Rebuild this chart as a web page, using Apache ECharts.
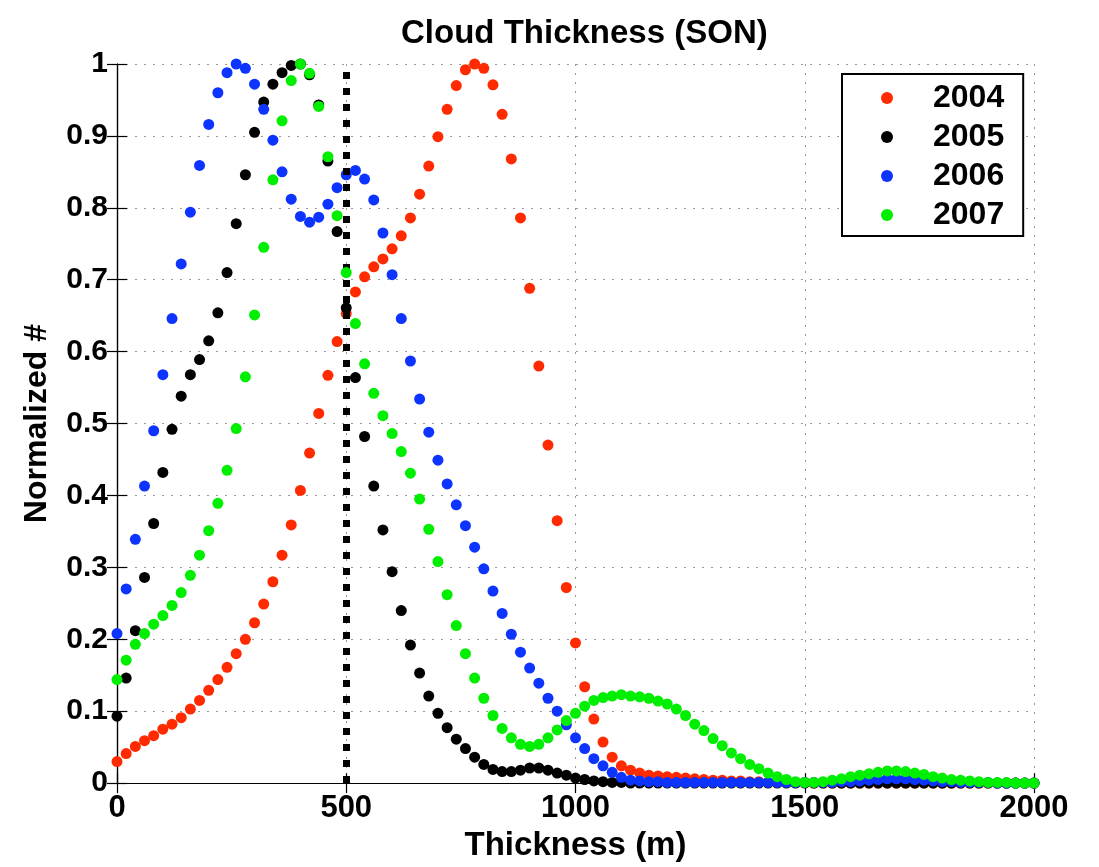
<!DOCTYPE html>
<html>
<head>
<meta charset="utf-8">
<title>Cloud Thickness (SON)</title>
<script src="https://cdn.jsdelivr.net/npm/echarts@6/dist/echarts.min.js"></script>
<style>
  html, body { margin: 0; padding: 0; background: #fff; }
  #chart { width: 1099px; height: 867px; }
</style>
</head>
<body>
<div id="chart"></div>
<script>
// thickness bins (m), one every 20 m
const thickness = [
  0, 20, 40, 60, 80, 100, 120, 140, 160, 180,
  200, 220, 240, 260, 280, 300, 320, 340, 360, 380,
  400, 420, 440, 460, 480, 500, 520, 540, 560, 580,
  600, 620, 640, 660, 680, 700, 720, 740, 760, 780,
  800, 820, 840, 860, 880, 900, 920, 940, 960, 980,
  1000, 1020, 1040, 1060, 1080, 1100, 1120, 1140, 1160, 1180,
  1200, 1220, 1240, 1260, 1280, 1300, 1320, 1340, 1360, 1380,
  1400, 1420, 1440, 1460, 1480, 1500, 1520, 1540, 1560, 1580,
  1600, 1620, 1640, 1660, 1680, 1700, 1720, 1740, 1760, 1780,
  1800, 1820, 1840, 1860, 1880, 1900, 1920, 1940, 1960, 1980,
  2000
];

const y2004 = [
  0.030, 0.041, 0.051, 0.059, 0.066, 0.075, 0.082, 0.091, 0.103, 0.115,
  0.129, 0.144, 0.161, 0.180, 0.200, 0.223, 0.249, 0.280, 0.317, 0.359,
  0.407, 0.459, 0.514, 0.567, 0.614, 0.653, 0.683, 0.704, 0.718, 0.729,
  0.743, 0.761, 0.786, 0.819, 0.858, 0.899, 0.937, 0.970, 0.992, 1.000,
  0.994, 0.971, 0.930, 0.868, 0.786, 0.688, 0.580, 0.470, 0.365, 0.272,
  0.195, 0.134, 0.089, 0.057, 0.036, 0.024, 0.018, 0.014, 0.011, 0.010,
  0.009, 0.008, 0.007, 0.006, 0.005, 0.004, 0.004, 0.003, 0.003, 0.002,
  0.002, 0.001, 0.001, 0.001, 0.001, 0.001, 0, 0, 0, 0,
  0, 0, 0, 0, 0, 0, 0, 0, 0, 0,
  0, 0, 0, 0, 0, 0, 0, 0, 0, 0,
  0
];

const y2005 = [
  0.093, 0.146, 0.212, 0.286, 0.361, 0.432, 0.492, 0.538, 0.568, 0.589,
  0.615, 0.654, 0.710, 0.778, 0.846, 0.905, 0.947, 0.972, 0.988, 0.998,
  1.000, 0.985, 0.943, 0.865, 0.767, 0.661, 0.564, 0.482, 0.413, 0.352,
  0.294, 0.240, 0.192, 0.153, 0.121, 0.097, 0.077, 0.061, 0.048, 0.036,
  0.026, 0.019, 0.016, 0.016, 0.018, 0.021, 0.021, 0.018, 0.014, 0.011,
  0.007, 0.005, 0.003, 0.002, 0.001, 0.001, 0, 0, 0, 0,
  0, 0, 0, 0, 0, 0, 0, 0, 0, 0,
  0, 0, 0, 0, 0, 0, 0, 0, 0, 0,
  0, 0, 0, 0, 0, 0, 0, 0, 0, 0,
  0, 0, 0, 0, 0, 0, 0, 0, 0, 0,
  0
];

const y2006 = [
  0.208, 0.270, 0.339, 0.413, 0.490, 0.568, 0.646, 0.722, 0.794, 0.859,
  0.916, 0.960, 0.988, 1.000, 0.994, 0.972, 0.937, 0.894, 0.850, 0.812,
  0.788, 0.780, 0.787, 0.805, 0.828, 0.846, 0.852, 0.840, 0.811, 0.765,
  0.707, 0.646, 0.587, 0.534, 0.488, 0.449, 0.416, 0.387, 0.358, 0.328,
  0.298, 0.267, 0.236, 0.207, 0.182, 0.160, 0.139, 0.118, 0.100, 0.081,
  0.063, 0.048, 0.034, 0.024, 0.015, 0.008, 0.004, 0.003, 0.002, 0.002,
  0.001, 0.001, 0.001, 0.001, 0.001, 0.001, 0.001, 0.001, 0.001, 0.001,
  0.001, 0.001, 0.001, 0.001, 0.001, 0.001, 0.001, 0.001, 0.001, 0.002,
  0.002, 0.003, 0.004, 0.005, 0.006, 0.006, 0.006, 0.005, 0.004, 0.003,
  0.002, 0.002, 0.001, 0.001, 0.001, 0.001, 0, 0, 0, 0,
  0
];

const y2007 = [
  0.144, 0.171, 0.193, 0.208, 0.221, 0.233, 0.247, 0.265, 0.289, 0.317,
  0.351, 0.389, 0.435, 0.493, 0.565, 0.651, 0.745, 0.839, 0.921, 0.977,
  1.000, 0.987, 0.941, 0.871, 0.789, 0.710, 0.639, 0.583, 0.542, 0.511,
  0.486, 0.461, 0.431, 0.395, 0.353, 0.308, 0.262, 0.219, 0.180, 0.146,
  0.118, 0.094, 0.076, 0.063, 0.054, 0.051, 0.054, 0.063, 0.074, 0.087,
  0.097, 0.107, 0.115, 0.119, 0.121, 0.123, 0.121, 0.120, 0.118, 0.114,
  0.110, 0.103, 0.094, 0.082, 0.073, 0.062, 0.052, 0.042, 0.034, 0.026,
  0.020, 0.014, 0.009, 0.005, 0.002, 0.001, 0.001, 0.002, 0.004, 0.006,
  0.009, 0.011, 0.013, 0.015, 0.017, 0.017, 0.016, 0.014, 0.012, 0.009,
  0.007, 0.005, 0.004, 0.003, 0.002, 0.001, 0.001, 0.001, 0, 0,
  0
];

const years = ['2004', '2005', '2006', '2007'];
const colors = ['#ff2a00', '#000000', '#0d33ff', '#00ee00'];
const xTicks = [0, 500, 1000, 1500, 2000];
const yTicks = [0, 0.1, 0.2, 0.3, 0.4, 0.5, 0.6, 0.7, 0.8, 0.9, 1];
const cutoff = 500;

const FONT = "'Liberation Sans', Arial, Helvetica, sans-serif";

function pairs(ys) {
  return thickness.map((x, i) => [x, ys[i]]);
}

const chart = echarts.init(document.getElementById('chart'), null, { renderer: 'canvas' });

const gridLine = { show: true, lineStyle: { color: '#999', width: 1, type: [2, 7] } };
const boxLine = { show: true, lineStyle: { color: '#000', width: 1.2 } };
const tickIn = { show: true, inside: true, length: 10, lineStyle: { color: '#000', width: 1.2 } };

const option = {
  backgroundColor: '#fff',
  animation: false,
  title: {
    text: 'Cloud Thickness (SON)',
    left: 396,
    top: 12,
    textStyle: { fontFamily: FONT, fontSize: 33, fontWeight: 'bold', color: '#000' }
  },
  legend: {
    data: years,
    orient: 'vertical',
    left: 842,
    top: 74,
    padding: [8, 19, 5, 39],
    itemGap: 7,
    itemWidth: 82,
    itemHeight: 12,
    icon: 'circle',
    borderColor: '#000',
    borderWidth: 2,
    backgroundColor: '#fff',
    textStyle: { fontFamily: FONT, fontSize: 32, fontWeight: 'bold', color: '#000', lineHeight: 32 }
  },
  grid: { left: 117, right: 65, top: 64, bottom: 79, containLabel: false },
  xAxis: [
    {
      type: 'value',
      min: xTicks[0],
      max: xTicks[xTicks.length - 1],
      interval: xTicks[1] - xTicks[0],
      name: 'Thickness (m)',
      nameLocation: 'middle',
      nameGap: 42,
      nameTextStyle: { fontFamily: FONT, fontSize: 33, fontWeight: 'bold', color: '#000' },
      axisLine: boxLine,
      axisTick: tickIn,
      axisLabel: {
        margin: 10,
        fontFamily: FONT, fontSize: 31, fontWeight: 'bold', color: '#000',
        formatter: v => String(v)
      },
      splitLine: gridLine
    },
    {
      type: 'value',
      position: 'top',
      min: xTicks[0],
      max: xTicks[xTicks.length - 1],
      interval: xTicks[1] - xTicks[0],
      axisLine: boxLine,
      axisTick: tickIn,
      axisLabel: { show: false },
      splitLine: { show: false }
    }
  ],
  yAxis: [
    {
      type: 'value',
      min: yTicks[0],
      max: yTicks[yTicks.length - 1],
      interval: 0.1,
      name: 'Normalized #',
      nameLocation: 'middle',
      nameGap: 64,
      nameTextStyle: { fontFamily: FONT, fontSize: 32, fontWeight: 'bold', color: '#000' },
      axisLine: boxLine,
      axisTick: tickIn,
      axisLabel: {
        margin: 9,
        fontFamily: FONT, fontSize: 30, fontWeight: 'bold', color: '#000'
      },
      splitLine: gridLine
    },
    {
      type: 'value',
      position: 'right',
      min: yTicks[0],
      max: yTicks[yTicks.length - 1],
      interval: 0.1,
      axisLine: boxLine,
      axisTick: tickIn,
      axisLabel: { show: false },
      splitLine: { show: false }
    }
  ],
  series: [
    ...[y2004, y2005, y2006, y2007].map((ys, k) => ({
      name: years[k],
      type: 'scatter',
      xAxisIndex: 0,
      yAxisIndex: 0,
      data: pairs(ys),
      symbol: 'circle',
      symbolSize: 11,
      clip: false,
      itemStyle: { color: colors[k], opacity: 1 },
      z: 2 + k
    })),
    {
      name: 'cutoff',
      type: 'line',
      xAxisIndex: 0,
      yAxisIndex: 0,
      data: [],
      z: 10,
      markLine: {
        silent: true,
        symbol: ['none', 'none'],
        label: { show: false },
        lineStyle: { color: '#000', width: 7, type: [7, 9] },
        data: [{ xAxis: cutoff }]
      }
    }
  ]
};

chart.setOption(option);
</script>
</body>
</html>
